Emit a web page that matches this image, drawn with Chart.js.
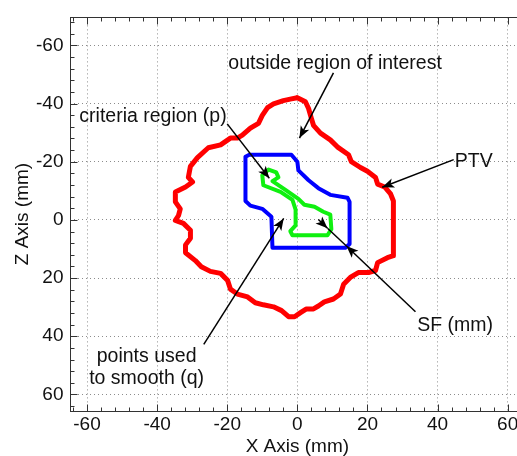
<!DOCTYPE html>
<html>
<head>
<meta charset="utf-8">
<script src="https://cdn.jsdelivr.net/npm/chart.js@4.4.0/dist/chart.umd.min.js"></script>
<style>
  html, body { margin: 0; padding: 0; background: #fff; overflow: hidden; width: 517px; height: 456px; }
  #wrap { width: 530px; height: 456px; }
</style>
</head>
<body>
<div id="wrap"><canvas id="c" width="530" height="456"></canvas></div>
<script>
// Axis tick values (mm)
const xTicks = [-60, -40, -20, 0, 20, 40, 60];
const zTicks = [-60, -40, -20, 0, 20, 40, 60];

// PTV outline (red)
const ptvX = [0.0, 2.3, 3.2, 4.0, 4.6, 6.6, 9.4, 11.4, 14.6, 15.4,
  18.0, 20.0, 22.3, 22.9, 24.9, 26.6, 27.4, 27.4, 25.7, 22.9,
  22.3, 20.3, 17.4, 15.1, 13.2, 12.3, 10.3, 7.7, 6.0, 4.6,
  2.6, 0.9, -0.8, -2.5, -4.5, -6.8, -9.7, -12.0, -14.2, -17.1,
  -19.1, -19.9, -21.9, -24.8, -27.4, -29.1, -31.9, -31.9, -30.5, -30.5,
  -32.5, -34.8, -33.9, -33.4, -34.8, -34.8, -31.9, -29.9, -31.1, -30.5,
  -28.5, -25.4, -21.9, -19.1, -17.1, -15.7, -13.4, -11.1, -10.0, -8.5,
  -6.8, -4.0, -1.7];
const ptvZ = [-42.0, -40.6, -38.3, -34.9, -32.5, -29.8, -27.5, -25.1, -22.4, -20.0,
  -18.0, -16.7, -14.6, -12.3, -11.3, -8.9, -6.5, 12.3, 13.0, 14.7,
  17.4, 18.1, 18.1, 19.8, 22.1, 25.5, 27.2, 28.2, 29.6, 30.6,
  30.6, 31.9, 33.3, 33.3, 31.2, 29.9, 29.2, 28.5, 26.5, 25.5,
  23.8, 20.8, 18.4, 17.7, 16.1, 14.0, 11.3, 8.6, 6.3, 3.6,
  1.2, 0.2, -1.5, -3.8, -6.2, -9.6, -11.3, -13.0, -14.6, -18.4,
  -21.4, -24.8, -25.8, -28.1, -28.1, -29.1, -31.5, -33.2, -35.9, -38.6,
  -39.9, -41.0, -41.6];

// Criteria region outline (blue)
const critX = [-14.8, -13.7, -1.7, 0.0, 0.3, 3.2, 6.0, 9.4, 14.3, 14.9, 14.9, 13.7, -7.1, -7.4, -10.0, -13.4, -14.8];
const critZ = [-21.7, -22.4, -22.4, -20.0, -17.0, -13.6, -10.9, -8.6, -7.6, -6.2, 8.3, 9.6, 9.6, -1.1, -3.8, -4.9, -6.5];

// Smoothing points outline (green)
const smoothX = [-10.0, -8.2, -6.0, -5.4, -7.1, -3.4, 0.3, 2.0, 4.9, 7.4, 9.4, 9.7, 8.6, -1.4, -2.0, -0.5, -0.5, -1.4, -4.8, -9.7];
const smoothZ = [-15.3, -17.3, -16.3, -14.6, -13.3, -10.3, -7.2, -5.2, -4.5, -2.8, -1.8, 3.2, 5.3, 5.3, 3.9, 1.9, -3.5, -6.9, -9.6, -11.9];

// Callout labels and leader arrows, in axis units (mm)
const labels = [
  { text: 'outside region of interest', x: -19.7, z: -52.0, align: 'left' },
  { text: 'criteria region (p)', x: -62.2, z: -33.6, align: 'left' },
  { text: 'PTV', x: 44.9, z: -18.1, align: 'left' },
  { text: 'SF (mm)', x: 34.2, z: 38.1, align: 'left' },
  { text: 'points used', x: -43.0, z: 48.8, align: 'center' },
  { text: 'to smooth (q)', x: -43.0, z: 56.3, align: 'center' }
];
const arrows = [
  { from: [10.3, -50.5], to: [0.6, -28.1], head: true },
  { from: [-20.0, -33.0], to: [-8.0, -14.3], head: true },
  { from: [44.6, -20.7], to: [24.2, -11.2], head: true },
  { from: [33.7, 31.6], to: [14.0, 9.0], head: true },
  { from: [14.0, 9.0], to: [8.6, 2.9], head: false },
  { from: [6.0, -0.1], to: [8.6, 2.9], head: true },
  { from: [-26.7, 42.8], to: [-3.9, -0.5], head: true }
];

const FONT = '"Liberation Sans", Arial, sans-serif';
const INK = '#111';

function closed(xs, zs) {
  const pts = xs.map((x, i) => ({ x: x, y: zs[i] }));
  pts.push({ x: xs[0], y: zs[0] });
  return pts;
}

function outline(label, xs, zs, color, width) {
  return {
    label: label,
    data: closed(xs, zs),
    showLine: true,
    borderColor: color,
    borderWidth: width,
    borderJoinStyle: 'round',
    borderCapStyle: 'round',
    pointRadius: 0,
    pointHoverRadius: 0,
    fill: false,
    tension: 0
  };
}

function arrowHead(ctx, tx, ty, fx, fy) {
  const ang = Math.atan2(ty - fy, tx - fx);
  ctx.save();
  ctx.translate(tx, ty);
  ctx.rotate(ang);
  ctx.beginPath();
  ctx.moveTo(0, 0);
  ctx.lineTo(-12, -4.8);
  ctx.lineTo(-9, 0);
  ctx.lineTo(-12, 4.8);
  ctx.closePath();
  ctx.fill();
  ctx.restore();
}

// Box frame with inward major/minor tick marks, then callouts
const framePlugin = {
  id: 'frame',
  afterDatasetsDraw(chart) {
    const { ctx, chartArea: a, scales: { x, y } } = chart;
    const L = Math.round(a.left) + 0.5, R = Math.round(a.right) + 0.5;
    const T = Math.round(a.top) + 0.5, B = Math.round(a.bottom) + 0.5;
    ctx.save();
    ctx.strokeStyle = '#333';
    ctx.lineWidth = 1;
    ctx.strokeRect(L, T, R - L, B - T);
    ctx.beginPath();
    for (let v = Math.ceil(x.min / 4) * 4; v <= x.max; v += 4) {
      const p = Math.round(x.getPixelForValue(v)) + 0.5;
      const len = (v % 20 === 0) ? 7 : 4;
      ctx.moveTo(p, B); ctx.lineTo(p, B - len);
      ctx.moveTo(p, T); ctx.lineTo(p, T + len);
    }
    for (let v = Math.ceil(y.min / 4) * 4; v <= y.max; v += 4) {
      const p = Math.round(y.getPixelForValue(v)) + 0.5;
      const len = (v % 20 === 0) ? 7 : 4;
      ctx.moveTo(L, p); ctx.lineTo(L + len, p);
      ctx.moveTo(R, p); ctx.lineTo(R - len, p);
    }
    ctx.stroke();

    // leader arrows
    ctx.strokeStyle = '#000';
    ctx.fillStyle = '#000';
    ctx.lineWidth = 1.5;
    arrows.forEach(ar => {
      const fx = x.getPixelForValue(ar.from[0]), fy = y.getPixelForValue(ar.from[1]);
      const tx = x.getPixelForValue(ar.to[0]), ty = y.getPixelForValue(ar.to[1]);
      ctx.beginPath();
      ctx.moveTo(fx, fy);
      ctx.lineTo(tx, ty);
      ctx.stroke();
      if (ar.head) arrowHead(ctx, tx, ty, fx, fy);
    });

    // callout text
    ctx.fillStyle = INK;
    ctx.font = '19.5px ' + FONT;
    ctx.textBaseline = 'alphabetic';
    labels.forEach(lb => {
      ctx.textAlign = lb.align;
      ctx.fillText(lb.text, x.getPixelForValue(lb.x), y.getPixelForValue(lb.z));
    });
    ctx.restore();
  }
};

new Chart(document.getElementById('c'), {
  type: 'scatter',
  data: {
    datasets: [
      outline('PTV', ptvX, ptvZ, '#ff0000', 5),
      outline('criteria region', critX, critZ, '#0000ff', 4),
      outline('points used to smooth', smoothX, smoothZ, '#10f010', 4)
    ]
  },
  options: {
    responsive: false,
    devicePixelRatio: 1,
    animation: false,
    events: [],
    layout: { autoPadding: false, padding: { left: 0, top: 10, right: 4.8, bottom: 0 } },
    plugins: { legend: { display: false }, tooltip: { enabled: false } },
    scales: {
      x: {
        type: 'linear',
        min: -65,
        max: 65,
        afterBuildTicks: s => { s.ticks = xTicks.map(v => ({ value: v })); },
        afterFit: s => { s.height = 45.3; },
        grid: { color: '#8c8c8c', lineWidth: 1, drawTicks: false },
        border: { display: false, dash: [1, 3] },
        ticks: { color: INK, padding: 3, font: { family: FONT, size: 19 }, callback: v => String(v) },
        title: { display: true, text: 'X Axis (mm)', color: INK, font: { family: FONT, size: 19 }, padding: { top: 0, bottom: -2 } }
      },
      y: {
        type: 'linear',
        reverse: true,
        min: -69.6,
        max: 65.6,
        afterBuildTicks: s => { s.ticks = zTicks.map(v => ({ value: v })); },
        afterFit: s => { s.width = 69.5; },
        grid: { color: '#8c8c8c', lineWidth: 1, drawTicks: false },
        border: { display: false, dash: [1, 3] },
        ticks: { color: INK, padding: 6, font: { family: FONT, size: 19 }, callback: v => String(v) },
        title: { display: true, text: 'Z Axis (mm)', color: INK, font: { family: FONT, size: 19 }, padding: { top: 11, bottom: 0 } }
      }
    }
  },
  plugins: [framePlugin]
});
</script>
</body>
</html>
